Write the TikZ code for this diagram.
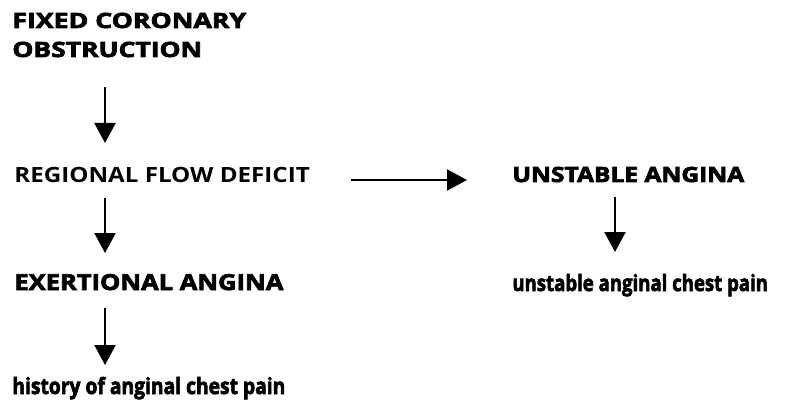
\documentclass[tikz,border=0pt]{standalone}
\usepackage{fontspec}
\setmainfont{Open Sans}[BoldFeatures={FakeBold=3}]
\newfontfamily\medfont{Open Sans}
\usetikzlibrary{arrows.meta}
% horizontal stretch of a label, keeping its baseline
\newcommand{\wide}[2]{\scalebox{#1}[1]{#2}}
\begin{document}
\begin{tikzpicture}[x=0.5pt,y=-0.5pt,
  head/.style={font=\fontsize{10.5}{12}\selectfont\bfseries, inner sep=0pt, anchor=base west},
  plain/.style={font=\fontsize{10.5}{12}\selectfont\medfont\bfseries, inner sep=0pt, anchor=base west},
  note/.style={font=\fontsize{11.2}{13}\selectfont\bfseries, inner sep=0pt, anchor=base west},
  flow/.style={line width=1.1pt, -{Triangle[width=10.5pt,length=10pt]}}]
\useasboundingbox (0,0) rectangle (791,406);

% left column
\node[head] (fix)  at (12,28)  {\wide{1.27}{FIXED CORONARY}};
\node[head] (obs)  at (12,57)  {\wide{1.26}{OBSTRUCTION}};
\node[plain] (reg) at (14,183) {\wide{1.15}{REGIONAL FLOW DEFICIT}};
\node[head,font=\fontsize{11}{13}\selectfont\bfseries] (exe) at (14,290) {\wide{1.16}{EXERTIONAL ANGINA}};
\node[note] (hist) at (12,394) {\wide{0.86}{history of anginal chest pain}};

% right column
\node[head] (uns)  at (512,182) {\wide{1.17}{UNSTABLE ANGINA}};
\node[note] (uchp) at (512,291) {\wide{0.83}{unstable anginal chest pain}};

% arrow end points
\coordinate (a1s) at (105,87);  \coordinate (a1e) at (105,143);
\coordinate (a2s) at (105,198); \coordinate (a2e) at (105,253);
\coordinate (a3s) at (105,308); \coordinate (a3e) at (105,365);
\coordinate (a4s) at (615,197); \coordinate (a4e) at (615,252);
\coordinate (hs)  at (351,180); \coordinate (he)  at (467,180);

\draw[flow] (a1s) -- (a1e);
\draw[flow] (a2s) -- (a2e);
\draw[flow] (a3s) -- (a3e);
\draw[flow] (a4s) -- (a4e);
\draw[flow] (hs) -- (he);
\end{tikzpicture}
\end{document}
